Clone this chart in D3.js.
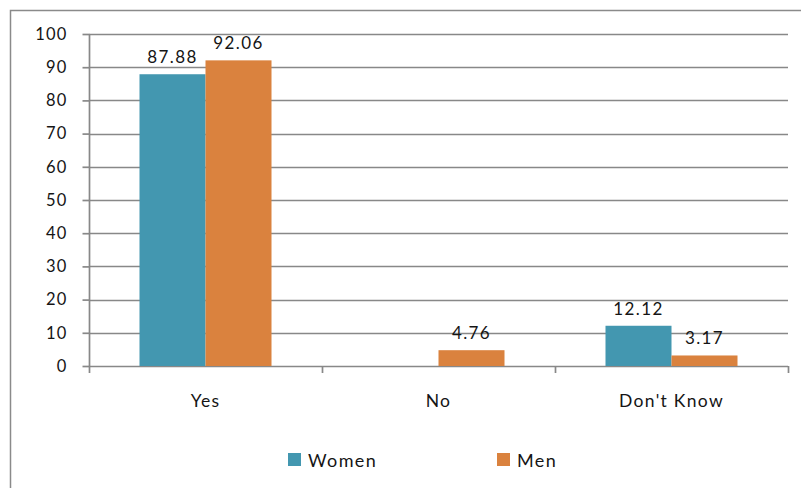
<!DOCTYPE html>
<html>
<head>
<meta charset="utf-8">
<script src="https://cdn.jsdelivr.net/npm/d3@7"></script>
<style>
  html, body { margin: 0; padding: 0; background: #fff; }
  svg { display: block; }
  text { font-family: Lato, "Open Sans", sans-serif; fill: #151515; }
</style>
</head>
<body>
<svg id="chart" width="801" height="488"></svg>
<script>
const categories = ["Yes", "No", "Don't Know"];
const series = ["Women", "Men"];
const women = [87.88, null, 12.12];
const men = [92.06, 4.76, 3.17];
const yTicks = [0, 10, 20, 30, 40, 50, 60, 70, 80, 90, 100];
const colors = ["#4397B0", "#DA823E"];

(function () {
const svg = d3.select("#chart");
const W = 801, H = 488;
svg.append("rect").attr("width", W).attr("height", H).attr("fill", "#fff");
// outer chart border (clipped at right/bottom in the reference)
svg.append("rect").attr("x", 10.5).attr("y", 10.5).attr("width", 820).attr("height", 500)
  .attr("fill", "none").attr("stroke", "#8a8a8a").attr("stroke-width", 1.5);

const pL = 89, pR = 788, pT = 34, pB = 366;
const y = d3.scaleLinear().domain([0, 100]).range([pB, pT]);
const x0 = d3.scaleBand().domain(categories).range([pL, pR]).padding(0);
const x1 = d3.scaleBand().domain(series).range([0, x0.bandwidth()]).paddingInner(0).paddingOuter(0.765);
const gridColor = "#888";

// gridlines
svg.append("g").selectAll("line").data(yTicks.filter(t => t > 0)).join("line")
  .attr("x1", pL).attr("x2", pR)
  .attr("y1", d => Math.round(y(d)) + 0.5).attr("y2", d => Math.round(y(d)) + 0.5)
  .attr("stroke", gridColor).attr("stroke-width", 1.7);

// y axis
const yAxis = svg.append("g").attr("transform", `translate(${pL + 0.5},0)`)
  .call(d3.axisLeft(y).tickValues(yTicks).tickSize(7).tickPadding(15).tickFormat(d3.format("d")));
yAxis.select(".domain").attr("stroke", gridColor).attr("stroke-width", 1.7)
  .attr("d", `M0,${pT}V${pB}`);
yAxis.selectAll(".tick line").attr("stroke", gridColor).attr("stroke-width", 1.7);
yAxis.selectAll(".tick text").style("font-size", "16.5px").style("letter-spacing", "1.2px").attr("fill", "#151515");

// x axis baseline and boundary ticks
svg.append("line").attr("x1", pL).attr("x2", pR)
  .attr("y1", pB + 0.5).attr("y2", pB + 0.5)
  .attr("stroke", gridColor).attr("stroke-width", 1.7);
const boundaries = categories.map(c => x0(c)).concat([x0(categories[categories.length - 1]) + x0.bandwidth()]);
svg.append("g").selectAll("line").data(boundaries).join("line")
  .attr("x1", d => Math.round(d) + 0.5).attr("x2", d => Math.round(d) + 0.5)
  .attr("y1", pB).attr("y2", pB + 7)
  .attr("stroke", gridColor).attr("stroke-width", 1.7);

const xAxis = svg.append("g").attr("transform", `translate(0,${pB})`)
  .call(d3.axisBottom(x0).tickSize(0).tickPadding(29));
xAxis.select(".domain").remove();
xAxis.selectAll(".tick text").style("font-size", "17.5px").style("letter-spacing", "1.3px").attr("fill", "#151515");

// bars
const seriesData = [women, men];
const groups = svg.append("g").selectAll("g").data(series).join("g")
  .attr("fill", (d, i) => colors[i]);
groups.selectAll("rect")
  .data((s, si) => categories.map((c, ci) => ({ c, s, v: seriesData[si][ci] })).filter(d => d.v != null))
  .join("rect")
  .attr("x", d => x0(d.c) + x1(d.s))
  .attr("width", x1.bandwidth())
  .attr("y", d => y(d.v))
  .attr("height", d => y(0) - y(d.v));

// value labels
groups.selectAll("text")
  .data((s, si) => categories.map((c, ci) => ({ c, s, v: seriesData[si][ci] })).filter(d => d.v != null))
  .join("text")
  .attr("x", d => x0(d.c) + x1(d.s) + x1.bandwidth() / 2)
  .attr("y", d => y(d.v) - 11)
  .attr("text-anchor", "middle")
  .style("font-size", "17px").style("letter-spacing", "1.4px")
  .attr("fill", "#151515")
  .text(d => d3.format(".2f")(d.v));

// legend
const legendX = [288, 497];
const legend = svg.append("g").selectAll("g").data(series).join("g")
  .attr("transform", (d, i) => `translate(${legendX[i]},453)`);
legend.append("rect").attr("width", 13).attr("height", 13).attr("fill", (d, i) => colors[i]);
legend.append("text").attr("x", 20).attr("y", 13.5)
  .style("font-size", "18px").style("letter-spacing", "1.4px")
  .attr("fill", "#151515").text(d => d);
})();
</script>
</body>
</html>
